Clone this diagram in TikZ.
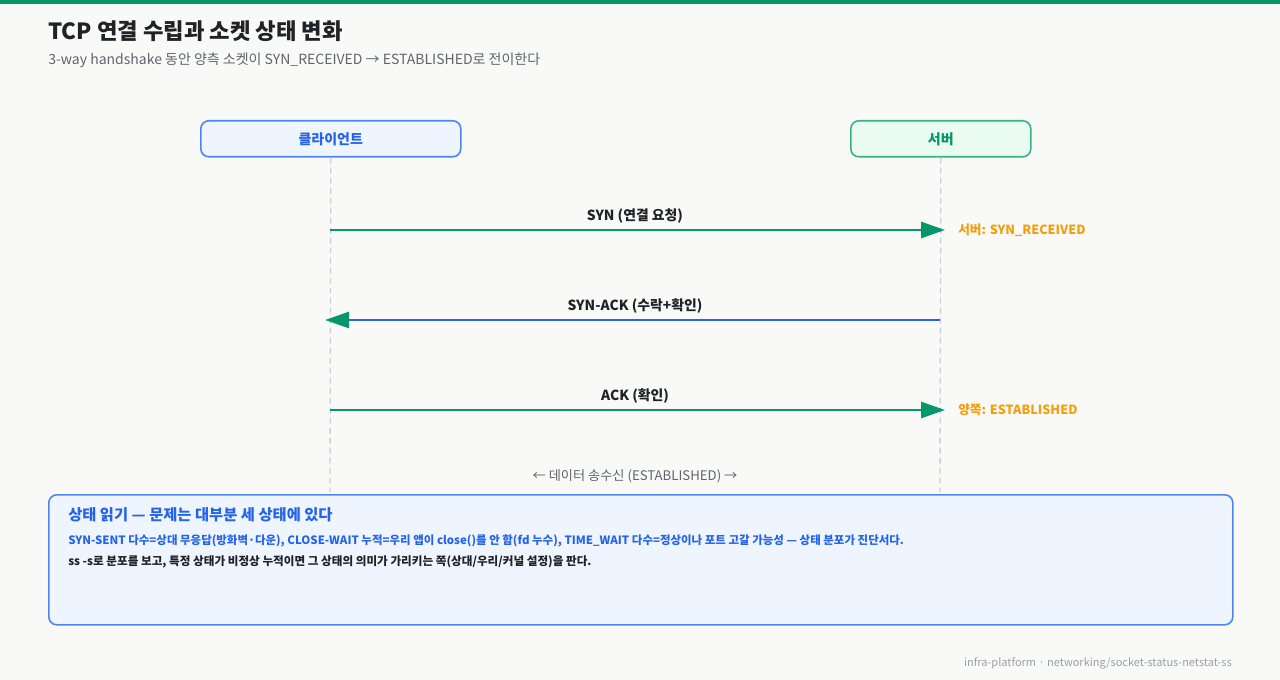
\documentclass[tikz,border=0pt]{standalone}
\usepackage{fontspec}
\setmainfont{Noto Sans CJK KR}
\usetikzlibrary{arrows.meta}
\definecolor{bg}{HTML}{F9FAF7}
\definecolor{topbar}{HTML}{059669}
\definecolor{ink}{HTML}{1F2328}
\definecolor{subgray}{HTML}{5F6570}
\definecolor{cblue}{HTML}{2563EB}
\definecolor{cbluebd}{HTML}{4F86EE}
\definecolor{cbluefill}{HTML}{EEF5FF}
\definecolor{sgreen}{HTML}{059669}
\definecolor{sgreenbd}{HTML}{3DAF84}
\definecolor{sgreenfill}{HTML}{EAFBF2}
\definecolor{lifeline}{HTML}{CBD0D8}
\definecolor{orangec}{HTML}{F59E0B}
\definecolor{footgray}{HTML}{9AA0AA}
\tikzset{
  actor/.style={draw, line width=1.2pt, rounded corners=6pt, anchor=north west, inner sep=0pt, font=\fontsize{10.5}{12}\selectfont\bfseries},
  life/.style={draw=lifeline, line width=1pt, dash pattern=on 4.5pt off 3pt},
  msg/.style={line width=2pt, -{Triangle[length=18pt,width=12pt]}},
  msglabel/.style={anchor=base, inner sep=0pt, text=ink, font=\fontsize{10.4}{12}\selectfont\bfseries},
  statelabel/.style={anchor=west, inner sep=0pt, text=orangec, font=\fontsize{9.5}{11}\selectfont\bfseries},
  txt/.style={anchor=base west, inner sep=0pt},
}
\begin{document}
\begin{tikzpicture}[x=0.75pt,y=-0.75pt]
\useasboundingbox (0,0) rectangle (1280,680);
\fill[bg] (0,0) rectangle (1280,680);
\fill[topbar] (0,0) rectangle (1280,4);
\node[txt, text=ink, font=\fontsize{16.7}{20}\selectfont\bfseries] (title) at (48,40) {TCP 연결 수립과 소켓 상태 변화};
\node[txt, text=subgray, font=\fontsize{10.5}{12}\selectfont] (sub) at (48,65) {3-way handshake 동안 양측 소켓이 SYN\_RECEIVED → ESTABLISHED로 전이한다};
% actors
\node[actor, draw=cbluebd, fill=cbluefill, text=cblue, minimum width=260*0.75pt, minimum height=36*0.75pt] (client) at (200,120) {클라이언트};
\node[actor, draw=sgreenbd, fill=sgreenfill, text=sgreen, minimum width=180*0.75pt, minimum height=36*0.75pt] (server) at (850,120) {서버};
\coordinate (cend) at (330,492);
\coordinate (send) at (940,492);
\draw[life] (client.south) -- (cend);
\draw[life] (server.south) -- (send);
% messages
\coordinate (c1) at (330,230); \coordinate (s1) at (945,230);
\coordinate (c2) at (325,320); \coordinate (s2) at (940,320);
\coordinate (c3) at (330,410); \coordinate (s3) at (945,410);
\draw[msg, draw=sgreen, color=sgreen] (c1) -- (s1);
\draw[msg, draw=cblue, -{Triangle[length=18pt,width=12pt,fill=sgreen,color=sgreen]}] (s2) -- (c2);
\draw[msg, draw=sgreen, color=sgreen] (c3) -- (s3);
\node[msglabel] (l1) at (635,221) {SYN (연결 요청)};
\node[msglabel] (l2) at (635,311) {SYN-ACK (수락+확인)};
\node[msglabel] (l3) at (635,401) {ACK (확인)};
\node[statelabel] (st1) at (958,230) {서버: SYN\_RECEIVED};
\node[statelabel] (st3) at (958,410) {양쪽: ESTABLISHED};
\node[anchor=base, inner sep=0pt, text=subgray, font=\fontsize{9.9}{11}\selectfont] (data) at (635,480) {← 데이터 송수신 (ESTABLISHED) →};
% note box
\node[draw=cbluebd, fill=cbluefill, line width=1.2pt, rounded corners=6pt, anchor=north west, inner sep=0pt, minimum width=1184*0.75pt, minimum height=130*0.75pt] (note) at (48,494) {};
\node[txt, text=cblue, font=\fontsize{11.5}{13}\selectfont\bfseries] (nt) at (68,520) {상태 읽기 — 문제는 대부분 세 상태에 있다};
\node[txt, text=cblue, font=\fontsize{8.6}{10}\selectfont\bfseries] (n1) at (68,544) {SYN-SENT 다수=상대 무응답(방화벽·다운), CLOSE-WAIT 누적=우리 앱이 close()를 안 함(fd 누수), TIME\_WAIT 다수=정상이나 포트 고갈 가능성 — 상태 분포가 진단서다.};
\node[txt, text=ink, font=\fontsize{8.7}{10}\selectfont\bfseries] (n2) at (68,565) {ss -s로 분포를 보고, 특정 상태가 비정상 누적이면 그 상태의 의미가 가리키는 쪽(상대/우리/커널 설정)을 판다.};
\node[anchor=base east, inner sep=0pt, text=footgray, font=\fontsize{8.25}{10}\selectfont] (foot) at (1232,666) {infra-platform · networking/socket-status-netstat-ss};
\end{tikzpicture}
\end{document}
